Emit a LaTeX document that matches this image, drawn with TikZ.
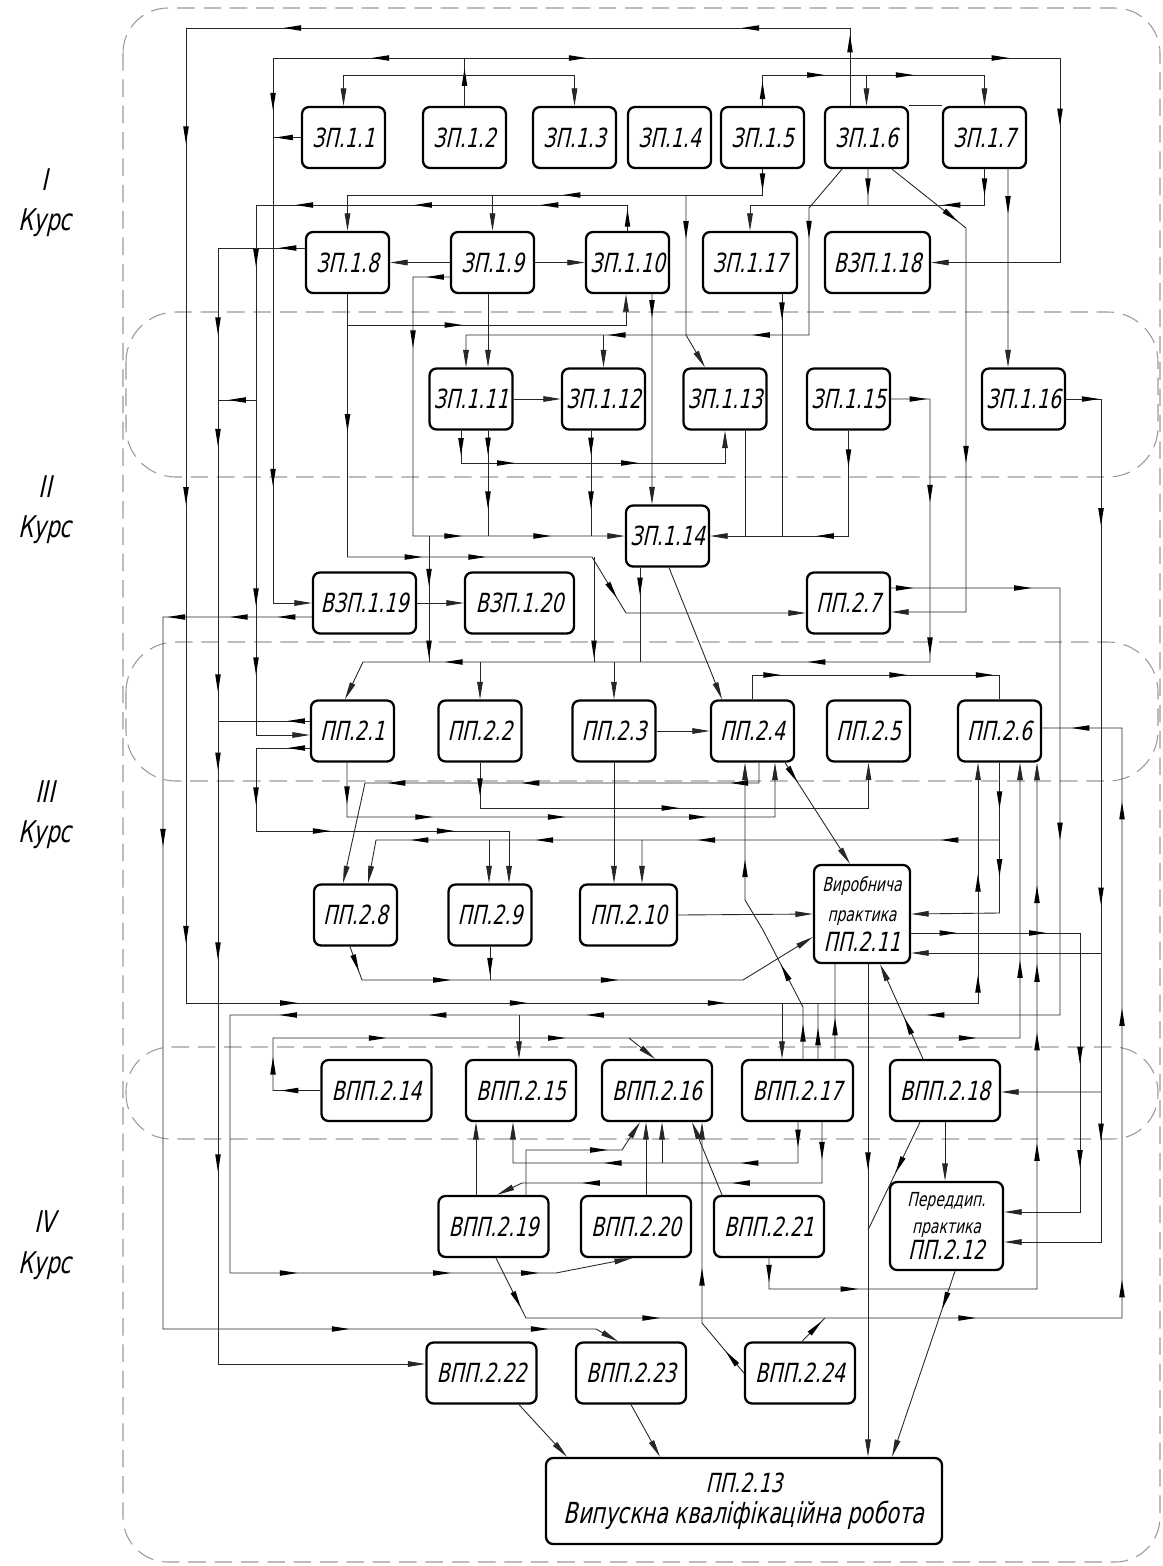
\documentclass[tikz,border=0pt]{standalone}
\usepackage{fontspec}
\newfontfamily\gost{DejaVu Sans}[FakeStretch=0.72,FakeSlant=0.22]
\usetikzlibrary{arrows.meta,calc}
\newcommand\tri{\tikz\fill (0,0) -- (-10pt,1.6pt) -- (-10pt,-1.6pt) -- cycle;}

\begin{document}
\begin{tikzpicture}[x=0.02cm, y=-0.02cm,
    box/.style={draw, rounded corners=4pt, line width=1.3pt, minimum width=1.66cm, minimum height=1.22cm, inner sep=1pt, font=\gost\fontsize{15}{18}\selectfont},
    wbox/.style={box, minimum width=2.2cm},
    lk/.style={line width=0.5pt, black!85},
    lkto/.style={lk, -{Triangle[length=10pt,width=3.2pt]}},
    ah/.style={sloped, allow upside down, inner sep=0pt, outer sep=0pt, execute at begin node={\tri}},
    zone/.style={draw=gray!80, dash pattern=on 10pt off 5pt, line width=0.6pt},
    kurs/.style={font=\gost\fontsize{17}{23}\selectfont, align=center}]
  \useasboundingbox (0,0) rectangle (1163,1566);

  % course zones
  \draw[zone, rounded corners=0.9cm] (123,8) rectangle (1160,1562);
  \draw[zone, rounded corners=1cm] (126,312) rectangle (1158,477);
  \draw[zone, rounded corners=1cm] (126,642) rectangle (1158,781);
  \draw[zone, rounded corners=0.9cm] (126,1047) rectangle (1158,1139);

  \node[kurs] (k1) at (45,203) {I\\Курс};
  \node[kurs] (k2) at (45,510) {II\\Курс};
  \node[kurs] (k3) at (45,815) {III\\Курс};
  \node[kurs] (k4) at (45,1245) {IV\\Курс};

  % blocks
  \node[box] (zp1) at (343.5,137.5) {ЗП.1.1};
  \node[box] (zp2) at (464.5,137.5) {ЗП.1.2};
  \node[box] (zp3) at (574.5,137.5) {ЗП.1.3};
  \node[box] (zp4) at (669.5,137.5) {ЗП.1.4};
  \node[box] (zp5) at (762.5,137.5) {ЗП.1.5};
  \node[box] (zp6) at (866.5,137.5) {ЗП.1.6};
  \node[box] (zp7) at (984.5,137.5) {ЗП.1.7};
  \node[box] (zp8) at (347.5,262.5) {ЗП.1.8};
  \node[box] (zp9) at (492.5,262.5) {ЗП.1.9};
  \node[box] (zp10) at (627.5,262.5) {ЗП.1.10};
  \node[box, minimum width=1.88cm] (zp17) at (750,262.5) {ЗП.1.17};
  \node[box, minimum width=2.1cm] (vzp18) at (877.5,262.5) {ВЗП.1.18};
  \node[box] (zp11) at (471,399) {ЗП.1.11};
  \node[box] (zp12) at (603.5,399) {ЗП.1.12};
  \node[box] (zp13) at (725,399) {ЗП.1.13};
  \node[box] (zp15) at (848.5,399) {ЗП.1.15};
  \node[box] (zp16) at (1023.5,399) {ЗП.1.16};
  \node[box] (zp14) at (667.5,536) {ЗП.1.14};
  \node[box, minimum width=2.06cm] (vzp19) at (364.5,603) {ВЗП.1.19};
  \node[box, minimum width=2.18cm] (vzp20) at (519.5,603) {ВЗП.1.20};
  \node[box] (pp7) at (848.5,603) {ПП.2.7};
  \node[box] (pp1) at (352.5,731) {ПП.2.1};
  \node[box] (pp2) at (480,731) {ПП.2.2};
  \node[box] (pp3) at (614,731) {ПП.2.3};
  \node[box] (pp4) at (752.5,731) {ПП.2.4};
  \node[box] (pp5) at (868.5,731) {ПП.2.5};
  \node[box] (pp6) at (999.5,731) {ПП.2.6};
  \node[box] (pp8) at (355.5,915) {ПП.2.8};
  \node[box] (pp9) at (490,915) {ПП.2.9};
  \node[box, minimum width=1.94cm] (pp10) at (628.5,915) {ПП.2.10};
  \node[box, minimum width=1.92cm, minimum height=1.96cm, align=center, font=\gost\fontsize{11}{17}\selectfont] (pp11) at (862,914)
    {Виробнича\\практика\\{\fontsize{15}{17}\selectfont ПП.2.11}};
  \node[wbox] (vpp14) at (376.5,1090.5) {ВПП.2.14};
  \node[wbox] (vpp15) at (521,1090.5) {ВПП.2.15};
  \node[wbox] (vpp16) at (657,1090.5) {ВПП.2.16};
  \node[wbox, minimum width=2.22cm] (vpp17) at (797.5,1090.5) {ВПП.2.17};
  \node[wbox] (vpp18) at (945,1090.5) {ВПП.2.18};
  \node[wbox] (vpp19) at (493.5,1226.5) {ВПП.2.19};
  \node[wbox] (vpp20) at (636,1226.5) {ВПП.2.20};
  \node[wbox] (vpp21) at (769,1226.5) {ВПП.2.21};
  \node[box, minimum width=2.26cm, minimum height=1.76cm, align=center, font=\gost\fontsize{11}{15}\selectfont] (pp12) at (946.5,1226)
    {Переддип.\\практика\\{\fontsize{15}{15}\selectfont ПП.2.12}};
  \node[wbox] (vpp22) at (481.5,1373) {ВПП.2.22};
  \node[wbox] (vpp23) at (631,1373) {ВПП.2.23};
  \node[wbox] (vpp24) at (800,1373) {ВПП.2.24};
  \node[box, minimum width=7.92cm, minimum height=1.72cm, align=center, font=\gost\fontsize{15}{17.5}\selectfont] (pp13) at (744,1501)
    {ПП.2.13\\{\fontsize{16.5}{17.5}\selectfont Випускна кваліфікаційна робота}};

  % first course links
  \draw[lkto] ($(zp6.north)+(-16.5,0)$) -- node[ah,pos=.8]{} (850,28)
    -- node[ah,pos=.15]{} node[ah,pos=.84]{} (186,28)
    -- node[ah,pos=.11]{} node[ah,pos=.48]{} node[ah,pos=.93]{} (186,1003)
    -- node[ah,pos=.13]{} node[ah,pos=.42]{} node[ah,pos=.67]{} (978,1003)
    -- node[ah,pos=.08]{} node[ah,pos=.5]{} ($(pp6.south)+(-21.5,0)$);
  \draw[lkto] (zp2.north) -- node[ah,pos=.6]{} (464.5,58) -- node[ah,pos=.44]{} (273,58)
    -- node[ah,pos=.08]{} node[ah,pos=.77]{} (273,603) -- (vzp19.west);
  \draw[lkto] (464.5,58) -- node[ah,pos=.19]{} node[ah,pos=.9]{} (1060,58)
    -- node[ah,pos=.29]{} (1060,262.5) -- (vzp18.east);
  \draw[lkto] (464.5,75) -- (343.5,75) -- (zp1.north);
  \draw[lkto] (464.5,75) -- (574.5,75) -- (zp3.north);
  \draw[lk] (zp1.west) -- node[ah,pos=.6]{} (273,137.5);
  \draw[lkto] (zp5.north) -- node[ah,pos=.5]{} (762.5,75) -- node[ah,pos=.24]{} node[ah,pos=.64]{} (984.5,75) -- (zp7.north);
  \draw[lkto] (866.5,75) -- (zp6.north);
  \draw[lk] (zp6.north east) -- (zp7.north west);
  \draw[lkto] (zp5.south) -- node[ah,pos=.5]{} (762.5,195) -- node[ah,pos=.46]{} (347.5,195) -- (zp8.north);
  \draw[lkto] (492.5,195) -- (zp9.north);
  \draw[lkto] (686,195) -- node[ah,pos=.25]{} (686,335) -- ($(zp13.north)+(-20,0)$);
  \draw[lkto] (zp10.north) -- node[ah,pos=.5]{} (627.5,205)
    -- node[ah,pos=.21]{} node[ah,pos=.55]{} node[ah,pos=.87]{} (256,205)
    -- node[ah,pos=.1]{} node[ah,pos=.74]{} node[ah,pos=.87]{} (256,735) -- ($(pp1.west)+(0,4)$);
  \draw[lk] (256,400) -- node[ah,pos=.5]{} (218,400);
  \draw[lkto] ($(zp8.west)+(0,-14.5)$) -- node[ah,pos=.2]{} (218,248)
    -- node[ah,pos=.07]{} node[ah,pos=.17]{} node[ah,pos=.39]{} node[ah,pos=.46]{} node[ah,pos=.63]{} node[ah,pos=.82]{} (218,1364)
    -- ($(vpp22.west)+(0,-9)$);
  \draw[lkto] (zp9.west) -- (zp8.east);
  \draw[lkto] (zp9.east) -- (zp10.west);
  \draw[lkto] ($(zp9.west)+(0,14.5)$) -- node[ah,pos=.4]{} (413,277) -- node[ah,pos=.24]{} (413,536)
    -- node[ah,pos=.19]{} node[ah,pos=.61]{} (zp14.west);
  \draw[lk] (429,536) -- node[ah,pos=.33]{} node[ah,pos=.9]{} (429,662);
  \draw[lkto] ($(zp9.south)+(-4.5,0)$) -- ($(zp11.north)+(17,0)$);
  \draw[lkto] ($(zp6.south)+(-24.5,0)$) -- (809,208) -- node[ah,pos=.17]{} (809,335)
    -- node[ah,pos=.14]{} node[ah,pos=.56]{} (466,335) -- ($(zp11.north)+(-5,0)$);
  \draw[lkto] (603.5,335) -- (zp12.north);
  \draw[lk] ($(zp6.south)+(1.5,0)$) -- node[ah,pos=.5]{} (868,205);
  \draw[lkto] (zp7.south) -- node[ah,pos=.5]{} (984.5,205) -- node[ah,pos=.14]{} (750,205) -- (zp17.north);
  \draw[lkto] ($(zp6.south)+(25.5,0)$) -- node[ah,pos=.8]{} (966,228) -- node[ah,pos=.59]{} (966,612) -- ($(pp7.east)+(0,9)$);
  \draw[lkto] ($(zp7.south)+(23.5,0)$) -- node[ah,pos=.18]{} ($(zp16.north)+(-15.5,0)$);
  \draw[lkto] (zp8.south) -- node[ah,pos=.49]{} (347.5,557) -- node[ah,pos=.27]{} node[ah,pos=.53]{} (592,557)
    -- node[ah,pos=.6]{} (626,613) -- ($(pp7.west)+(0,10)$);
  \draw[lkto] (347.5,325) -- node[ah,pos=.38]{} (626,325) -- ($(zp10.south)+(-1.5,0)$);
  \draw[lk] (594,557) -- node[ah,pos=.88]{} (594,662);
  \draw[lkto] ($(zp10.south)+(24.5,0)$) -- node[ah,pos=.07]{} ($(zp14.north)+(-15.5,0)$);
  \draw[lk] ($(zp17.south)+(32,0)$) -- node[ah,pos=.07]{} (782,536);

  % second course links
  \draw[lkto] (zp11.east) -- (zp12.west);
  \draw[lkto] ($(zp11.south)+(-10,0)$) -- node[ah,pos=.5]{} (461,463) -- node[ah,pos=.17]{} node[ah,pos=.64]{} (725,463) -- (zp13.south);
  \draw[lk] ($(zp11.south)+(17,0)$) -- node[ah,pos=.15]{} node[ah,pos=.66]{} (488,536);
  \draw[lk] ($(zp12.south)+(-12.5,0)$) -- node[ah,pos=.15]{} node[ah,pos=.66]{} (591,536);
  \draw[lk] ($(zp13.south)+(20,0)$) -- (745,536);
  \draw[lkto] (zp15.south) -- node[ah,pos=.26]{} (848.5,536) -- node[ah,pos=.17]{} (zp14.east);
  \draw[lkto] (zp15.east) -- node[ah,pos=.7]{} (930,399) -- node[ah,pos=.36]{} node[ah,pos=.94]{} (930,662)
    -- node[ah,pos=.2]{} node[ah,pos=.84]{} (363,662) -- ($(pp1.north)+(-7.5,0)$);
  \draw[lkto] (480,662) -- (pp2.north);
  \draw[lkto] (614,662) -- (pp3.north);
  \draw[lkto] (zp16.east) -- node[ah,pos=.7]{} (1101,399)
    -- node[ah,pos=.14]{} node[ah,pos=.59]{} node[ah,pos=.87]{} (1101,1242) -- ($(pp12.east)+(0,16)$);
  \draw[lkto] (1101,953) -- ($(pp11.east)+(0,39)$);
  \draw[lkto] (1101,1092) -- ($(vpp18.east)+(0,1.5)$);
  \draw[lkto] ($(pp7.east)+(0,-15)$) -- node[ah,pos=.08]{} node[ah,pos=.78]{} (1060,588) -- node[ah,pos=.57]{} (1060,1015)
    -- node[ah,pos=.15]{} node[ah,pos=.56]{} node[ah,pos=.75]{} node[ah,pos=.93]{} (230,1015) -- (230,1273)
    -- node[ah,pos=.18]{} node[ah,pos=.65]{} node[ah,pos=.92]{} (556,1273) -- ($(vpp20.south)+(-4,0)$);
  \draw[lkto] (519,1015) -- ($(vpp15.north)+(-2,0)$);
  \draw[lkto] (vzp19.east) -- (vzp20.west);
  \draw[lkto] ($(vzp19.west)+(0,14)$) -- node[ah,pos=.17]{} node[ah,pos=.49]{} node[ah,pos=.91]{} (163,617)
    -- node[ah,pos=.31]{} (163,1329) -- node[ah,pos=.41]{} node[ah,pos=.87]{} (596,1329) -- ($(vpp23.north)+(-13,0)$);
  \draw[lk] ($(zp14.south)+(-27.5,0)$) -- node[ah,pos=.2]{} (640,662);
  \draw[lkto] ($(zp14.south)+(1.5,0)$) -- ($(pp4.north)+(-30.5,0)$);

  % third course links
  \draw[lkto] (pp3.east) -- (pp4.west);
  \draw[lk] (pp4.north) -- (752.5,675) -- node[ah,pos=.08]{} node[ah,pos=.59]{} node[ah,pos=.94]{} (999.5,675) -- (pp6.north);
  \draw[lk] ($(pp1.west)+(0,-10)$) -- node[ah,pos=.15]{} (218,721);
  \draw[lkto] ($(pp1.west)+(0,17)$) -- node[ah,pos=.25]{} (256,748) -- node[ah,pos=.58]{} (256,831)
    -- node[ah,pos=.26]{} node[ah,pos=.75]{} (509,831) -- ($(pp9.north)+(19,0)$);
  \draw[lkto] ($(pp1.south)+(-5.5,0)$) -- node[ah,pos=.6]{} (347,817)
    -- node[ah,pos=.18]{} node[ah,pos=.49]{} node[ah,pos=.82]{} (775,817) -- ($(pp4.south)+(22.5,0)$);
  \draw[lkto] ($(pp4.south)+(6.5,0)$) -- (759,783) -- node[ah,pos=.05]{} node[ah,pos=.58]{} node[ah,pos=.92]{} (365,783) -- ($(pp8.north)+(-12.5,0)$);
  \draw[lkto] (pp2.south) -- node[ah,pos=.54]{} (480,808) -- node[ah,pos=.49]{} (868.5,808) -- (pp5.south);
  \draw[lkto] (pp6.south) -- node[ah,pos=.25]{} node[ah,pos=.7]{} (999.5,913) -- (pp11.east);
  \draw[lkto] (999.5,840) -- node[ah,pos=.08]{} node[ah,pos=.47]{} node[ah,pos=.73]{} node[ah,pos=.93]{} (376,840) -- ($(pp8.north)+(12.5,0)$);
  \draw[lkto] (489,840) -- ($(pp9.north)+(-1,0)$);
  \draw[lkto] (642,840) -- ($(pp10.north)+(13.5,0)$);
  \draw[lkto] (pp3.south) -- ($(pp10.north)+(-14.5,0)$);
  \draw[lkto] (pp10.east) -- (pp11.west);
  \draw[lkto] ($(pp8.south)+(-5.5,0)$) -- node[ah,pos=.5]{} (362,980) -- node[ah,pos=.21]{} node[ah,pos=.65]{} (743,980) -- ($(pp11.west)+(0,23)$);
  \draw[lk] (pp9.south) -- node[ah,pos=.6]{} (490,980);
  \draw[lkto] ($(pp4.south)+(32.5,0)$) -- node[ah,pos=.12]{} ($(pp11.north)+(-12,0)$);
  \draw[lkto] ($(vpp17.north)+(5.5,0)$) -- node[ah,pos=.5]{} (803,1007) -- node[ah,pos=.45]{} (763,930) -- (745,900)
    -- node[ah,pos=.23]{} ($(pp4.south)+(-7.5,0)$);
  \draw[lkto] (782,1003) -- ($(vpp17.north)+(-15.5,0)$);
  \draw[lk] ($(vpp17.north)+(20.5,0)$) -- node[ah,pos=.4]{} (818,1003);
  \draw[lk] ($(vpp17.north)+(37.5,0)$) -- node[ah,pos=.34]{} ($(pp11.south)+(-27,0)$);
  \draw[lkto] ($(vpp18.north)+(-22,0)$) -- node[ah,pos=.35]{} ($(pp11.south)+(18,0)$);
  \draw[lkto] ($(pp11.east)+(0,19)$) -- node[ah,pos=.22]{} node[ah,pos=.75]{} (1080,933)
    -- node[ah,pos=.44]{} node[ah,pos=.81]{} (1080,1212) -- ($(pp12.east)+(0,-14)$);

  % fourth course links
  \draw[lkto] (vpp14.west) -- node[ah,pos=.65]{} (273,1090.5) -- node[ah,pos=.47]{} (273,1038)
    -- node[ah,pos=.14]{} node[ah,pos=.38]{} node[ah,pos=.93]{} (1020,1038) -- node[ah,pos=.25]{} ($(pp6.south)+(20.5,0)$);
  \draw[lkto] (629,1038) -- ($(vpp16.north)+(-2,0)$);
  \draw[lk] ($(vpp19.south)+(2.5,0)$) -- node[ah,pos=.7]{} (526,1318) -- node[ah,pos=.21]{} node[ah,pos=.74]{} (1122,1318)
    -- node[ah,pos=.05]{} node[ah,pos=.51]{} node[ah,pos=.86]{} (1122,728) -- node[ah,pos=.52]{} ($(pp6.east)+(0,-3)$);
  \draw[lk] ($(vpp24.north)+(2,0)$) -- node[ah,pos=.6]{} (825,1318);
  \draw[lkto] (vpp18.south) -- ($(pp12.north)+(-1.5,0)$);
  \draw[lk] ($(vpp18.south)+(-25,0)$) -- node[ah,pos=.4]{} (868,1230);
  \draw[lkto] ($(pp11.south)+(6,0)$) -- node[ah,pos=.4]{} ($(pp13.north)+(124,0)$);
  \draw[lkto] ($(pp12.south)+(8.5,0)$) -- node[ah,pos=.16]{} ($(pp13.north)+(148,0)$);
  \draw[lkto] (vpp21.south) -- node[ah,pos=.5]{} (769,1289) -- node[ah,pos=.3]{} (1037,1289)
    -- node[ah,pos=.26]{} node[ah,pos=.47]{} node[ah,pos=.6]{} node[ah,pos=.75]{} ($(pp6.south)+(37.5,0)$);
  \draw[lkto] ($(vpp17.south)+(0.5,0)$) -- node[ah,pos=.4]{} (798,1163)
    -- node[ah,pos=.17]{} node[ah,pos=.65]{} (513,1163) -- ($(vpp15.south)+(-8,0)$);
  \draw[lkto] (662,1163) -- ($(vpp16.south)+(5,0)$);
  \draw[lkto] ($(vpp17.south)+(24.5,0)$) -- node[ah,pos=.47]{} (822,1183)
    -- node[ah,pos=.27]{} node[ah,pos=.77]{} (522,1183) -- ($(vpp19.north)+(3.5,0)$);
  \draw[lkto] ($(vpp19.north)+(-17.5,0)$) -- ($(vpp15.south)+(-45,0)$);
  \draw[lkto] ($(vpp19.north)+(32.5,0)$) -- (526,1150) -- node[ah,pos=.76]{} (622,1150) -- ($(vpp16.south)+(-17,0)$);
  \draw[lkto] ($(vpp20.north)+(10,0)$) -- ($(vpp16.south)+(-11,0)$);
  \draw[lkto] ($(vpp21.north)+(-47,0)$) -- ($(vpp16.south)+(35,0)$);
  \draw[lkto] (vpp24.west) -- node[ah,pos=.3]{} (702,1323) -- node[ah,pos=.23]{} ($(vpp16.south)+(45,0)$);
  \draw[lkto] ($(vpp22.south)+(37.5,0)$) -- ($(pp13.north)+(-177,0)$);
  \draw[lkto] (vpp23.south) -- ($(pp13.north)+(-84,0)$);
\end{tikzpicture}
\end{document}
